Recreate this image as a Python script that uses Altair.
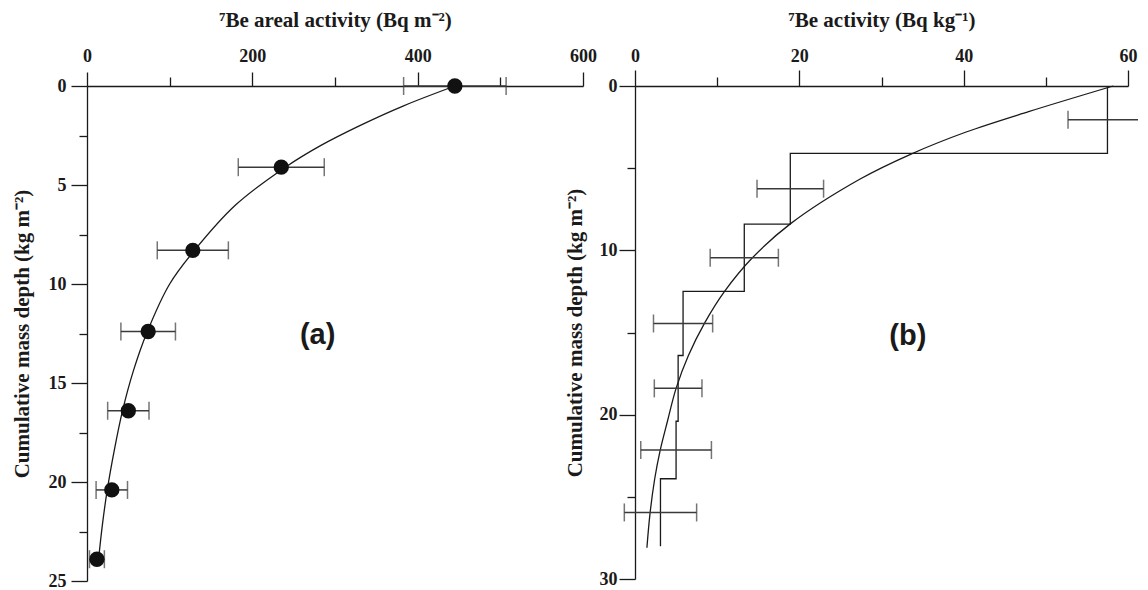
import altair as alt
import pandas as pd

# ---------------- Panel (a): 7Be areal activity ----------------
a_depth = [0, 4.1, 8.3, 12.4, 16.4, 20.4, 23.9]
a_activity = [445, 235, 128, 74, 50, 30, 12]
a_err = [62, 52, 43, 33, 25, 19, 9]

a_fit_depth = [0, 1, 2, 3, 4.1, 6, 8.3, 10, 12.4, 14.4, 16.4, 18.4, 20.4, 22.2, 23.9]
a_fit_activity = [445, 383, 330, 283, 240, 180, 130, 100, 73, 56, 43, 33, 24.5, 18.5, 14]

# ---------------- Panel (b): 7Be activity ----------------
b_layer_top = [0, 4.1, 8.4, 12.5, 16.4, 20.4, 23.9]
b_layer_bottom = [4.1, 8.4, 12.5, 16.4, 20.4, 23.9, 28.0]
b_activity = [57.5, 18.9, 13.3, 5.85, 5.25, 5.0, 3.1]
b_err = [4.8, 4.05, 4.15, 3.6, 2.9, 4.3, 4.4]

b_fit_depth = [0, 1.56, 2.8, 4.14, 5.66, 8.39, 10.5, 12.5, 14.4, 16.4, 18.4, 20.4, 22.2, 23.9, 26.05, 28.1]
b_fit_activity = [58.2, 47.9, 40.3, 33.6, 27.4, 18.9, 14.2, 10.9, 8.5, 6.5, 5.0, 3.95, 3.05, 2.4, 1.82, 1.45]

# axis tick values (major = labelled, minor = short unlabelled)
a_x_major = [0, 200, 400, 600]
a_x_minor = [100, 300, 500]
a_y_major = [0, 5, 10, 15, 20, 25]
a_y_minor = [2.5, 7.5, 12.5, 17.5, 22.5]
b_x_major = [0, 20, 40, 60]
b_x_minor = [10, 30, 50]
b_y_major = [0, 10, 20, 30]
b_y_minor = [5, 15, 25]

SERIF = "Liberation Serif"
INK = "#1a1a1a"
ERR = "#3a3a3a"
LABEL_FS = 18
TITLE_FS = 21

# ---------- tables ----------
a_pts = pd.DataFrame({"depth": a_depth, "act": a_activity,
                      "lo": [v - e for v, e in zip(a_activity, a_err)],
                      "hi": [v + e for v, e in zip(a_activity, a_err)]})
a_fit = pd.DataFrame({"depth": a_fit_depth, "act": a_fit_activity,
                      "i": list(range(len(a_fit_depth)))})

step_rows = []
k = 0
for t, b, v in zip(b_layer_top, b_layer_bottom, b_activity):
    step_rows.append({"depth": t, "act": v, "i": k}); k += 1
    step_rows.append({"depth": b, "act": v, "i": k}); k += 1
b_step = pd.DataFrame(step_rows)
b_bars = pd.DataFrame({"depth": [(t + b) / 2 for t, b in zip(b_layer_top, b_layer_bottom)],
                       "lo": [v - e for v, e in zip(b_activity, b_err)],
                       "hi": [v + e for v, e in zip(b_activity, b_err)]})
b_fit = pd.DataFrame({"depth": b_fit_depth, "act": b_fit_activity,
                      "i": list(range(len(b_fit_depth)))})

common = dict(labelFont=SERIF, labelFontSize=LABEL_FS, labelFontWeight="bold", labelColor=INK,
              titleFont=SERIF, titleFontSize=TITLE_FS, titleFontWeight="bold", titleColor=INK,
              domainColor=INK, domainWidth=1.3, tickColor=INK, tickWidth=1.3,
              grid=False, labelFlush=False, labelOverlap=False)


def x_main(title, vals, tsize, lpad):
    return alt.Axis(orient="top", title=title, values=vals, tickSize=tsize,
                    labelPadding=lpad, titlePadding=17, **common)


def x_minor(vals):
    return alt.Axis(orient="top", title=None, values=vals, tickSize=9, labels=False,
                    domain=False, tickColor=INK, tickWidth=1.3, grid=False)


def y_main(title, vals, lpad, tpad):
    return alt.Axis(orient="left", title=title, values=vals, tickSize=16,
                    labelPadding=lpad, titlePadding=tpad, labelBaseline="middle", **common)


def y_minor(vals):
    return alt.Axis(orient="left", title=None, values=vals, tickSize=8, labels=False,
                    domain=False, tickColor=INK, tickWidth=1.3, grid=False)


def err_layers(df, xs, ys):
    rule = alt.Chart(df).mark_rule(color=ERR, strokeWidth=1.5).encode(
        x=alt.X("lo:Q", scale=xs, axis=None), x2="hi:Q", y=alt.Y("depth:Q", scale=ys, axis=None))
    lo = alt.Chart(df).mark_tick(color=ERR, orient="vertical", size=18, thickness=1.5).encode(
        x=alt.X("lo:Q", scale=xs, axis=None), y=alt.Y("depth:Q", scale=ys, axis=None))
    hi = alt.Chart(df).mark_tick(color=ERR, orient="vertical", size=18, thickness=1.5).encode(
        x=alt.X("hi:Q", scale=xs, axis=None), y=alt.Y("depth:Q", scale=ys, axis=None))
    return [rule, lo, hi]


# ---------- Panel (a) ----------
xa = alt.Scale(domain=[0, 600], nice=False, zero=False)
ya = alt.Scale(domain=[0, 25], nice=False, zero=False, reverse=True)

a_curve = alt.Chart(a_fit).mark_line(color=INK, strokeWidth=1.3, interpolate="catmull-rom").encode(
    x=alt.X("act:Q", scale=xa, axis=x_main("⁷Be areal activity (Bq m⁻²)", a_x_major, 14, 7)),
    y=alt.Y("depth:Q", scale=ya, axis=y_main("Cumulative mass depth (kg m⁻²)", a_y_major, 5, 16)),
    order="i:Q")
a_minor = alt.Chart(a_fit).mark_line(opacity=0).encode(
    x=alt.X("act:Q", scale=xa, axis=x_minor(a_x_minor)),
    y=alt.Y("depth:Q", scale=ya, axis=y_minor(a_y_minor)),
    order="i:Q")
a_dots = alt.Chart(a_pts).mark_circle(color="#111111", opacity=1, size=235).encode(
    x=alt.X("act:Q", scale=xa, axis=None), y=alt.Y("depth:Q", scale=ya, axis=None))
a_lab = alt.Chart(pd.DataFrame({"x": [279], "y": [12.6], "t": ["(a)"]})).mark_text(
    font="Liberation Sans", fontSize=29, fontWeight="bold", color=INK).encode(
    x=alt.X("x:Q", scale=xa, axis=None), y=alt.Y("y:Q", scale=ya, axis=None), text="t:N")

panel_a = alt.layer(a_curve, a_minor, *err_layers(a_pts, xa, ya), a_dots, a_lab).resolve_axis(
    x="independent", y="independent").properties(width=496, height=495)

# ---------- Panel (b) ----------
xb = alt.Scale(domain=[0, 60], nice=False, zero=False)
yb = alt.Scale(domain=[0, 30], nice=False, zero=False, reverse=True)

b_steps = alt.Chart(b_step).mark_line(color=INK, strokeWidth=1.3, interpolate="linear").encode(
    x=alt.X("act:Q", scale=xb, axis=x_main("⁷Be activity (Bq kg⁻¹)", b_x_major, 16, 5)),
    y=alt.Y("depth:Q", scale=yb, axis=y_main("Cumulative mass depth (kg m⁻²)", b_y_major, 2, 14)),
    order="i:Q")
b_minor = alt.Chart(b_step).mark_line(opacity=0).encode(
    x=alt.X("act:Q", scale=xb, axis=x_minor(b_x_minor)),
    y=alt.Y("depth:Q", scale=yb, axis=y_minor(b_y_minor)),
    order="i:Q")
b_curve = alt.Chart(b_fit).mark_line(color=INK, strokeWidth=1.3, interpolate="catmull-rom").encode(
    x=alt.X("act:Q", scale=xb, axis=None), y=alt.Y("depth:Q", scale=yb, axis=None), order="i:Q")
b_lab = alt.Chart(pd.DataFrame({"x": [33.2], "y": [15.2], "t": ["(b)"]})).mark_text(
    font="Liberation Sans", fontSize=29, fontWeight="bold", color=INK).encode(
    x=alt.X("x:Q", scale=xb, axis=None), y=alt.Y("y:Q", scale=yb, axis=None), text="t:N")

panel_b = alt.layer(b_steps, b_minor, b_curve, *err_layers(b_bars, xb, yb), b_lab).resolve_axis(
    x="independent", y="independent").properties(width=493, height=493)

chart = alt.hconcat(panel_a, panel_b, spacing=52, bounds="flush").properties(
    padding={"left": 3, "top": 1, "right": -10, "bottom": 0}
).configure(background="white").configure_view(stroke="transparent", strokeWidth=0)

chart.save("out.html", embed_options={"renderer": "svg", "actions": False})
